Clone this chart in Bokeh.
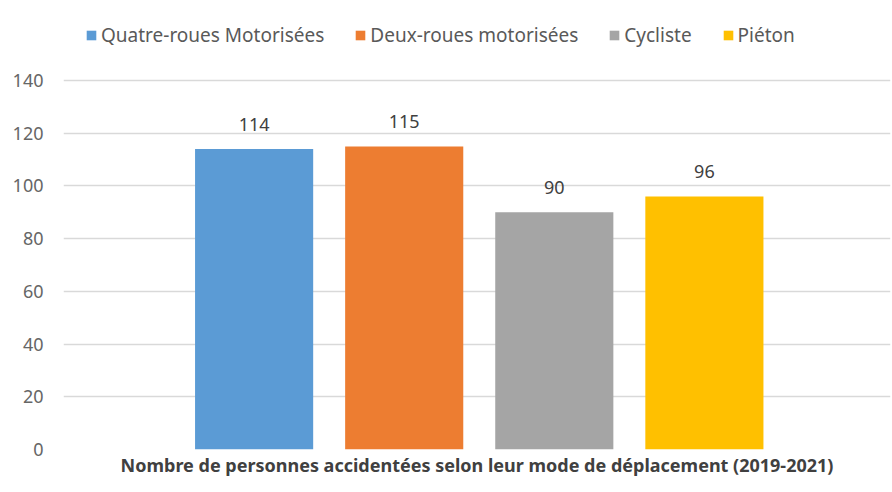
from bokeh.plotting import figure
from bokeh.models import ColumnDataSource, Range1d, Title, Legend, LegendItem
from bokeh.core.properties import value
from bokeh.embed import file_html
from bokeh.resources import INLINE

# Accidented people by mode of travel, 2019-2021
modes = ["Quatre-roues Motorisées", "Deux-roues motorisées", "Cycliste", "Piéton"]
counts = [114, 115, 90, 96]
colors = ["#5B9BD5", "#ED7D31", "#A5A5A5", "#FFC000"]
y_ticks = [0, 20, 40, 60, 80, 100, 120, 140]

FONT = "Noto Sans"
TEXT_GREY = "#595959"

src = ColumnDataSource(dict(
    x=list(range(len(modes))),
    mode=modes,
    count=counts,
    label=[str(c) for c in counts],
    color=colors,
))

# the value axis stops at 140; the headroom above it holds the legend
p = figure(
    width=892, height=492,
    x_range=Range1d(-1.27, 4.24), y_range=Range1d(0, 140 * 439 / 369),
    output_backend="svg", toolbar_location=None,
    min_border_left=63, min_border_right=2, min_border_top=10, min_border_bottom=43,
)
p.outline_line_color = None
p.background_fill_color = "white"
p.border_fill_color = "white"

bars = p.vbar(x="x", top="count", width=0.787, bottom=0, source=src,
              fill_color="color", line_color=None)

p.text(x="x", y="count", text="label", source=src,
       text_align="center", text_baseline="bottom", y_offset=-18,
       text_font=value(FONT), text_font_size="18px", text_color="#404040")

# axes
p.xaxis.visible = False
p.xgrid.visible = False
p.yaxis.ticker = y_ticks
p.yaxis.axis_line_color = None
p.yaxis.major_tick_line_color = None
p.yaxis.minor_tick_line_color = None
p.yaxis.major_label_text_font = FONT
p.yaxis.major_label_text_font_size = "18px"
p.yaxis.major_label_text_color = "#666666"
p.yaxis.major_label_standoff = 14
p.ygrid.grid_line_color = "#D9D9D9"
p.ygrid.grid_line_width = 1.5

# bottom title
p.add_layout(Title(text="Nombre de personnes accidentées selon leur mode de déplacement (2019-2021)",
                   align="center", text_font=FONT, text_font_size="18px",
                   text_font_style="bold", text_color="#404040", standoff=2), "below")

# legend across the top
items = [LegendItem(label=m, renderers=[bars], index=i) for i, m in enumerate(modes)]
legend = Legend(items=items, orientation="horizontal", location=(22, 401),
                label_text_font=FONT, label_text_font_size="19px",
                label_text_color=TEXT_GREY, glyph_width=12, glyph_height=12,
                label_standoff=4, spacing=30, border_line_color=None,
                background_fill_alpha=0, padding=3, margin=0)
p.add_layout(legend, "center")

open("out.html", "w").write(file_html(p, INLINE))
